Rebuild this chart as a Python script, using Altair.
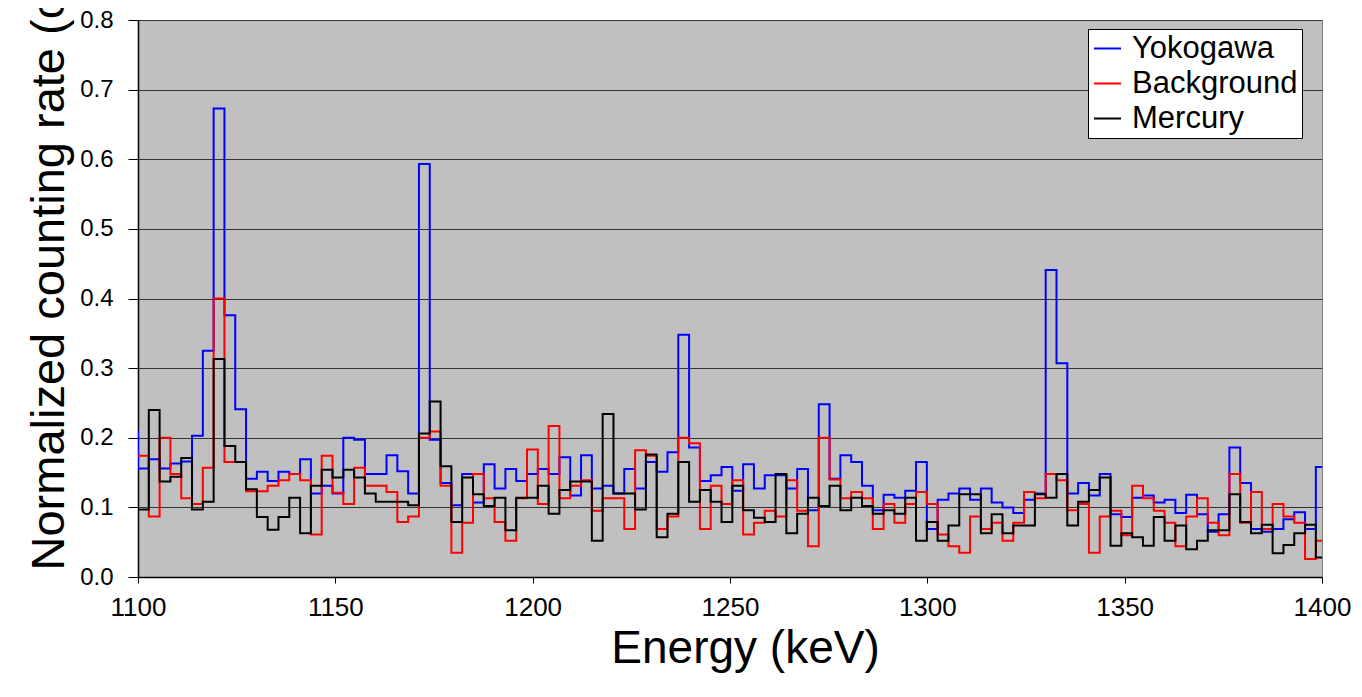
import altair as alt
import pandas as pd

series_names = ["Yokogawa", "Background", "Mercury"]
series_colors = ["#0000ff", "#ff0000", "#000000"]

# spectrum channels: first channel starts just left of the plotted range
bin_width = 2.738
bin_start = 1100.0 - bin_width

yokogawa = [0.209, 0.156, 0.169, 0.156, 0.163, 0.166, 0.203, 0.325, 0.673, 0.376,
             0.241, 0.141, 0.151, 0.138, 0.151, 0.148, 0.169, 0.120, 0.131, 0.120,
             0.200, 0.197, 0.148, 0.148, 0.175, 0.152, 0.120, 0.593, 0.197, 0.135,
             0.103, 0.148, 0.107, 0.162, 0.127, 0.155, 0.138, 0.148, 0.155, 0.148,
             0.172, 0.117, 0.175, 0.127, 0.131, 0.120, 0.155, 0.127, 0.165, 0.151,
             0.179, 0.348, 0.186, 0.138, 0.146, 0.158, 0.124, 0.162, 0.127, 0.146,
             0.146, 0.127, 0.155, 0.096, 0.248, 0.141, 0.175, 0.165, 0.131, 0.096,
             0.118, 0.114, 0.124, 0.165, 0.069, 0.111, 0.120, 0.127, 0.111, 0.127,
             0.107, 0.100, 0.092, 0.111, 0.120, 0.441, 0.307, 0.120, 0.135, 0.117,
             0.148, 0.090, 0.086, 0.114, 0.117, 0.107, 0.111, 0.092, 0.118, 0.090,
             0.065, 0.090, 0.186, 0.135, 0.069, 0.065, 0.069, 0.083, 0.093, 0.069,
             0.158]

background = [0.174, 0.174, 0.087, 0.200, 0.148, 0.113, 0.105, 0.157, 0.400, 0.165,
              0.165, 0.123, 0.123, 0.131, 0.139, 0.148, 0.139, 0.061, 0.174, 0.121,
              0.105, 0.157, 0.131, 0.131, 0.122, 0.079, 0.087, 0.200, 0.209, 0.131,
              0.035, 0.078, 0.148, 0.113, 0.079, 0.052, 0.113, 0.183, 0.105, 0.217,
              0.113, 0.131, 0.139, 0.095, 0.113, 0.113, 0.069, 0.182, 0.174, 0.069,
              0.087, 0.200, 0.192, 0.069, 0.131, 0.105, 0.139, 0.061, 0.078, 0.095,
              0.087, 0.139, 0.095, 0.044, 0.200, 0.140, 0.113, 0.122, 0.113, 0.069,
              0.105, 0.078, 0.105, 0.122, 0.105, 0.061, 0.044, 0.035, 0.087, 0.069,
              0.078, 0.052, 0.078, 0.122, 0.113, 0.148, 0.139, 0.096, 0.105, 0.035,
              0.087, 0.095, 0.060, 0.131, 0.113, 0.095, 0.078, 0.044, 0.087, 0.113,
              0.078, 0.060, 0.148, 0.078, 0.122, 0.069, 0.105, 0.087, 0.078, 0.026,
              0.052]

mercury = [0.125, 0.097, 0.240, 0.137, 0.144, 0.171, 0.097, 0.108, 0.313, 0.188,
           0.165, 0.126, 0.086, 0.068, 0.086, 0.114, 0.063, 0.131, 0.154, 0.143,
           0.154, 0.143, 0.120, 0.108, 0.108, 0.108, 0.103, 0.206, 0.252, 0.159,
           0.079, 0.143, 0.119, 0.102, 0.114, 0.067, 0.114, 0.114, 0.131, 0.091,
           0.125, 0.137, 0.137, 0.052, 0.234, 0.120, 0.120, 0.097, 0.176, 0.057,
           0.091, 0.165, 0.108, 0.125, 0.108, 0.079, 0.131, 0.096, 0.085, 0.079,
           0.148, 0.063, 0.091, 0.114, 0.102, 0.131, 0.096, 0.114, 0.102, 0.091,
           0.096, 0.091, 0.114, 0.052, 0.079, 0.052, 0.074, 0.119, 0.119, 0.063,
           0.090, 0.063, 0.074, 0.074, 0.119, 0.114, 0.148, 0.074, 0.108, 0.125,
           0.143, 0.045, 0.063, 0.057, 0.045, 0.086, 0.052, 0.074, 0.040, 0.052,
           0.067, 0.067, 0.119, 0.079, 0.063, 0.075, 0.034, 0.046, 0.063, 0.075,
           0.028]

x_ticks = [1100, 1150, 1200, 1250, 1300, 1350, 1400]
y_ticks = [0.0, 0.1, 0.2, 0.3, 0.4, 0.5, 0.6, 0.7, 0.8]

rows = []
for name, vals in zip(series_names, [yokogawa, background, mercury]):
    padded = vals + [vals[-1]]
    for i, v in enumerate(padded):
        rows.append({"energy": bin_start + i * bin_width, "rate": v, "series": name})
df = pd.DataFrame(rows)

FONT = "Liberation Sans"

x_enc = alt.X(
    "energy:Q",
    scale=alt.Scale(domain=[1100, 1400], nice=False, zero=False),
    axis=alt.Axis(
        values=x_ticks, format="d", title="Energy (keV)",
        grid=False, tickSize=6, tickColor="#000000", domainColor="#000000",
        domainWidth=1.5, labelFontSize=26, labelFont=FONT, labelColor="#000000",
        labelPadding=11, labelFlush=False, labelOverlap=False,
        titleFont=FONT, titleFontSize=46, titleFontWeight="normal",
        titleColor="#000000", titleX=607, titleY=85, titleBaseline="alphabetic",
        titleAlign="center",
    ),
)
y_enc = alt.Y(
    "rate:Q",
    scale=alt.Scale(domain=[0, 0.8], nice=False),
    axis=alt.Axis(
        values=y_ticks, format=".1f", title="Normalized counting rate (cps/keV)",
        grid=True, gridColor="#333333", gridWidth=1.2,
        tickSize=10, tickColor="#000000", domainColor="#000000", domainWidth=1.5,
        labelFontSize=24, labelFont=FONT, labelColor="#000000", labelPadding=15,
        labelFlush=False, labelOverlap=False,
        titleFont=FONT, titleFontSize=47, titleFontWeight="normal", titleColor="#000000",
        titleAngle=270, titleX=-75, titleY=550, titleAlign="left",
        titleBaseline="alphabetic",
    ),
)
color_enc = alt.Color(
    "series:N",
    scale=alt.Scale(domain=series_names, range=series_colors),
    legend=alt.Legend(
        title=None, orient="none", legendX=950, legendY=9,
        fillColor="#ffffff", strokeColor="#000000", padding=4,
        symbolType="stroke", symbolSize=729, symbolStrokeWidth=2,
        labelFont=FONT, labelFontSize=31, labelColor="#000000", labelLimit=400,
        labelOffset=9, rowPadding=3,
    ),
)

layers = []
for name in series_names:
    layers.append(
        alt.Chart(df)
        .transform_filter(alt.datum.series == name)
        .mark_line(interpolate="step-after", strokeWidth=2, clip=True)
        .encode(x=x_enc, y=y_enc, color=color_enc)
    )

chart = (
    alt.layer(*layers)
    .properties(
        width=1184, height=557,
        autosize=alt.AutoSizeParams(type="none"),
        padding={"left": 130, "top": 12, "right": 32, "bottom": 112},
        background="#ffffff",
    )
    .configure_view(fill="#c0c0c0", stroke="#808080", strokeWidth=1)
)

chart.save("out.html", embed_options={"renderer": "svg", "actions": False})
